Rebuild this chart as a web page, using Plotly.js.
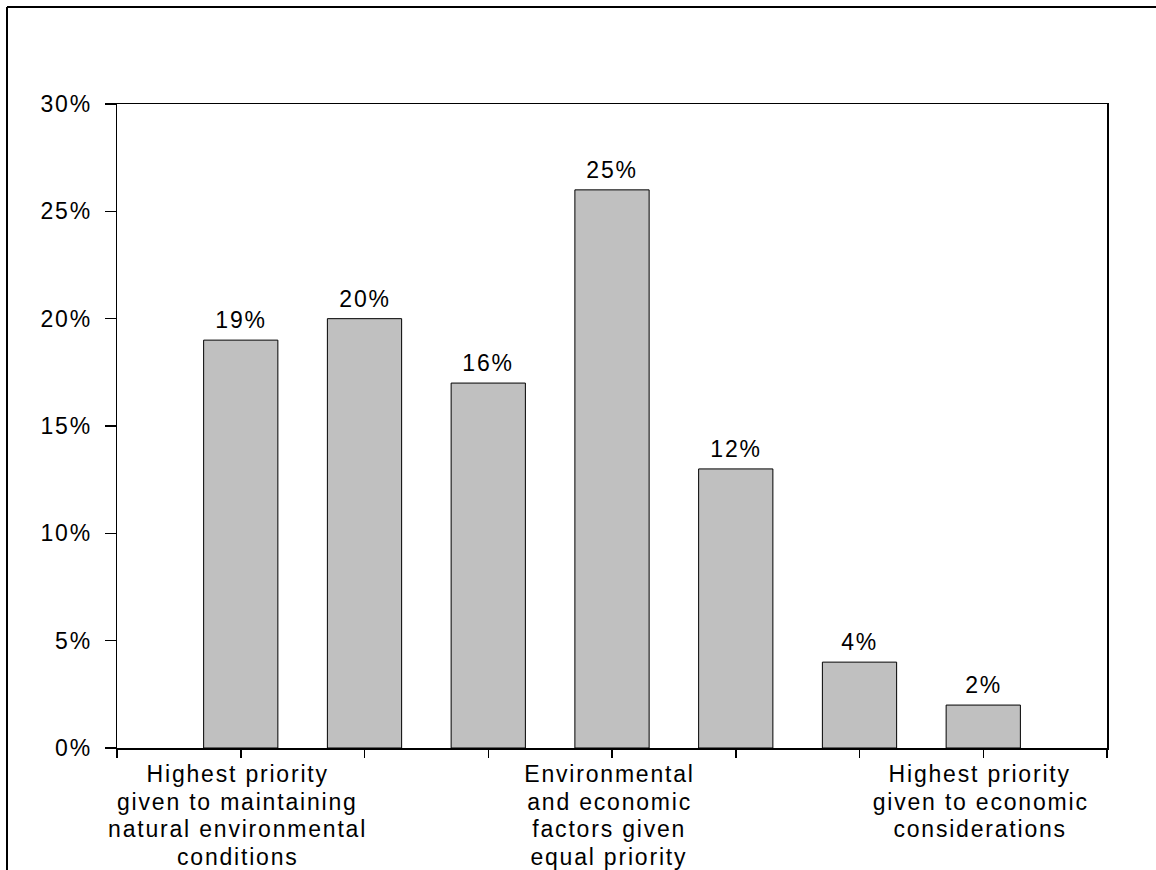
<!DOCTYPE html>
<html>
<head>
<meta charset="utf-8">
<script src="https://cdn.plot.ly/plotly-3.0.1.min.js"></script>
<style>
  html, body { margin: 0; padding: 0; background: #fff; }
  #chart { width: 1156px; height: 870px; }
  #chart .main-svg text { letter-spacing: 1.8px; }
</style>
</head>
<body>
<div id="chart"></div>
<script>
// Seven-point priority scale (1 = environment first ... 7 = economy first)
const scalePoints = [1, 2, 3, 4, 5, 6, 7];
// Bar heights (percent of respondents)
const shares = [19, 20, 17, 26, 13, 4, 2];
// Value labels printed above the bars
const shareLabels = ['19%', '20%', '16%', '25%', '12%', '4%', '2%'];
// Axis labels under the scale points (empty = no label)
const scaleLabels = [
  'Highest priority<br>given to maintaining<br>natural environmental<br>conditions',
  '',
  '',
  'Environmental<br>and economic<br>factors given<br>equal priority',
  '',
  '',
  'Highest priority<br>given to economic<br>considerations'
];
const yTicks = [0, 5, 10, 15, 20, 25, 30];

const FONT = 'Liberation Sans, Arial, sans-serif';
const FS = 23;
const LINE_GAP = 27.5;
const axisStart = scalePoints[0] - 1;
const axisEnd = scalePoints[scalePoints.length - 1] + 1;
const xTickVals = [axisStart].concat(scalePoints, [axisEnd]);

const trace = {
  type: 'bar',
  x: scalePoints,
  y: shares,
  marker: { color: '#C0C0C0', line: { color: '#000', width: 1 } },
  hoverinfo: 'none'
};

const annotations = [];
scalePoints.forEach((p, i) => {
  annotations.push({
    x: p, y: shares[i], xref: 'x', yref: 'y',
    text: shareLabels[i], showarrow: false,
    xanchor: 'center', yanchor: 'bottom', yshift: 5,
    font: { family: FONT, size: FS, color: '#000' }
  });
  if (scaleLabels[i]) {
    scaleLabels[i].split('<br>').forEach((line, k) => {
      annotations.push({
        x: p, y: 0, xref: 'x', yref: 'paper',
        text: line, showarrow: false,
        xanchor: 'center', yanchor: 'top',
        xshift: -3, yshift: -(11 + LINE_GAP * k),
        font: { family: FONT, size: FS, color: '#000' }
      });
    });
  }
});

const layout = {
  width: 1156, height: 870,
  margin: { l: 117, r: 49, t: 104, b: 122, pad: 0 },
  paper_bgcolor: '#fff', plot_bgcolor: '#fff',
  showlegend: false,
  bargap: 0.4,
  font: { family: FONT, size: FS, color: '#000' },
  xaxis: {
    type: 'linear', range: [axisStart, axisEnd],
    tickmode: 'array', tickvals: xTickVals, ticktext: xTickVals.map(() => ''),
    ticks: 'outside', ticklen: 8, tickwidth: 1.5, tickcolor: '#000',
    showline: true, linecolor: '#000', linewidth: 1.5, mirror: true,
    showgrid: false, zeroline: false
  },
  yaxis: {
    range: [0, 30],
    tickmode: 'array', tickvals: yTicks, ticktext: yTicks.map(v => v + '%'),
    ticks: 'outside', ticklen: 11, tickwidth: 1.5, tickcolor: '#000',
    ticklabelstandoff: 8,
    showline: true, linecolor: '#000', linewidth: 1.5, mirror: true,
    showgrid: false, zeroline: false,
    tickfont: { family: FONT, size: FS, color: '#000' }
  },
  annotations: annotations,
  shapes: [
    { type: 'line', xref: 'paper', yref: 'paper',
      x0: -110 / 990, x1: -110 / 990, y0: -0.3, y1: 741 / 644,
      line: { color: '#000', width: 2 } },
    { type: 'line', xref: 'paper', yref: 'paper',
      x0: -110 / 990, x1: 1.1, y0: 741 / 644, y1: 741 / 644,
      line: { color: '#000', width: 2 } }
  ]
};

Plotly.newPlot('chart', [trace], layout, { staticPlot: true, displayModeBar: false });
</script>
</body>
</html>
